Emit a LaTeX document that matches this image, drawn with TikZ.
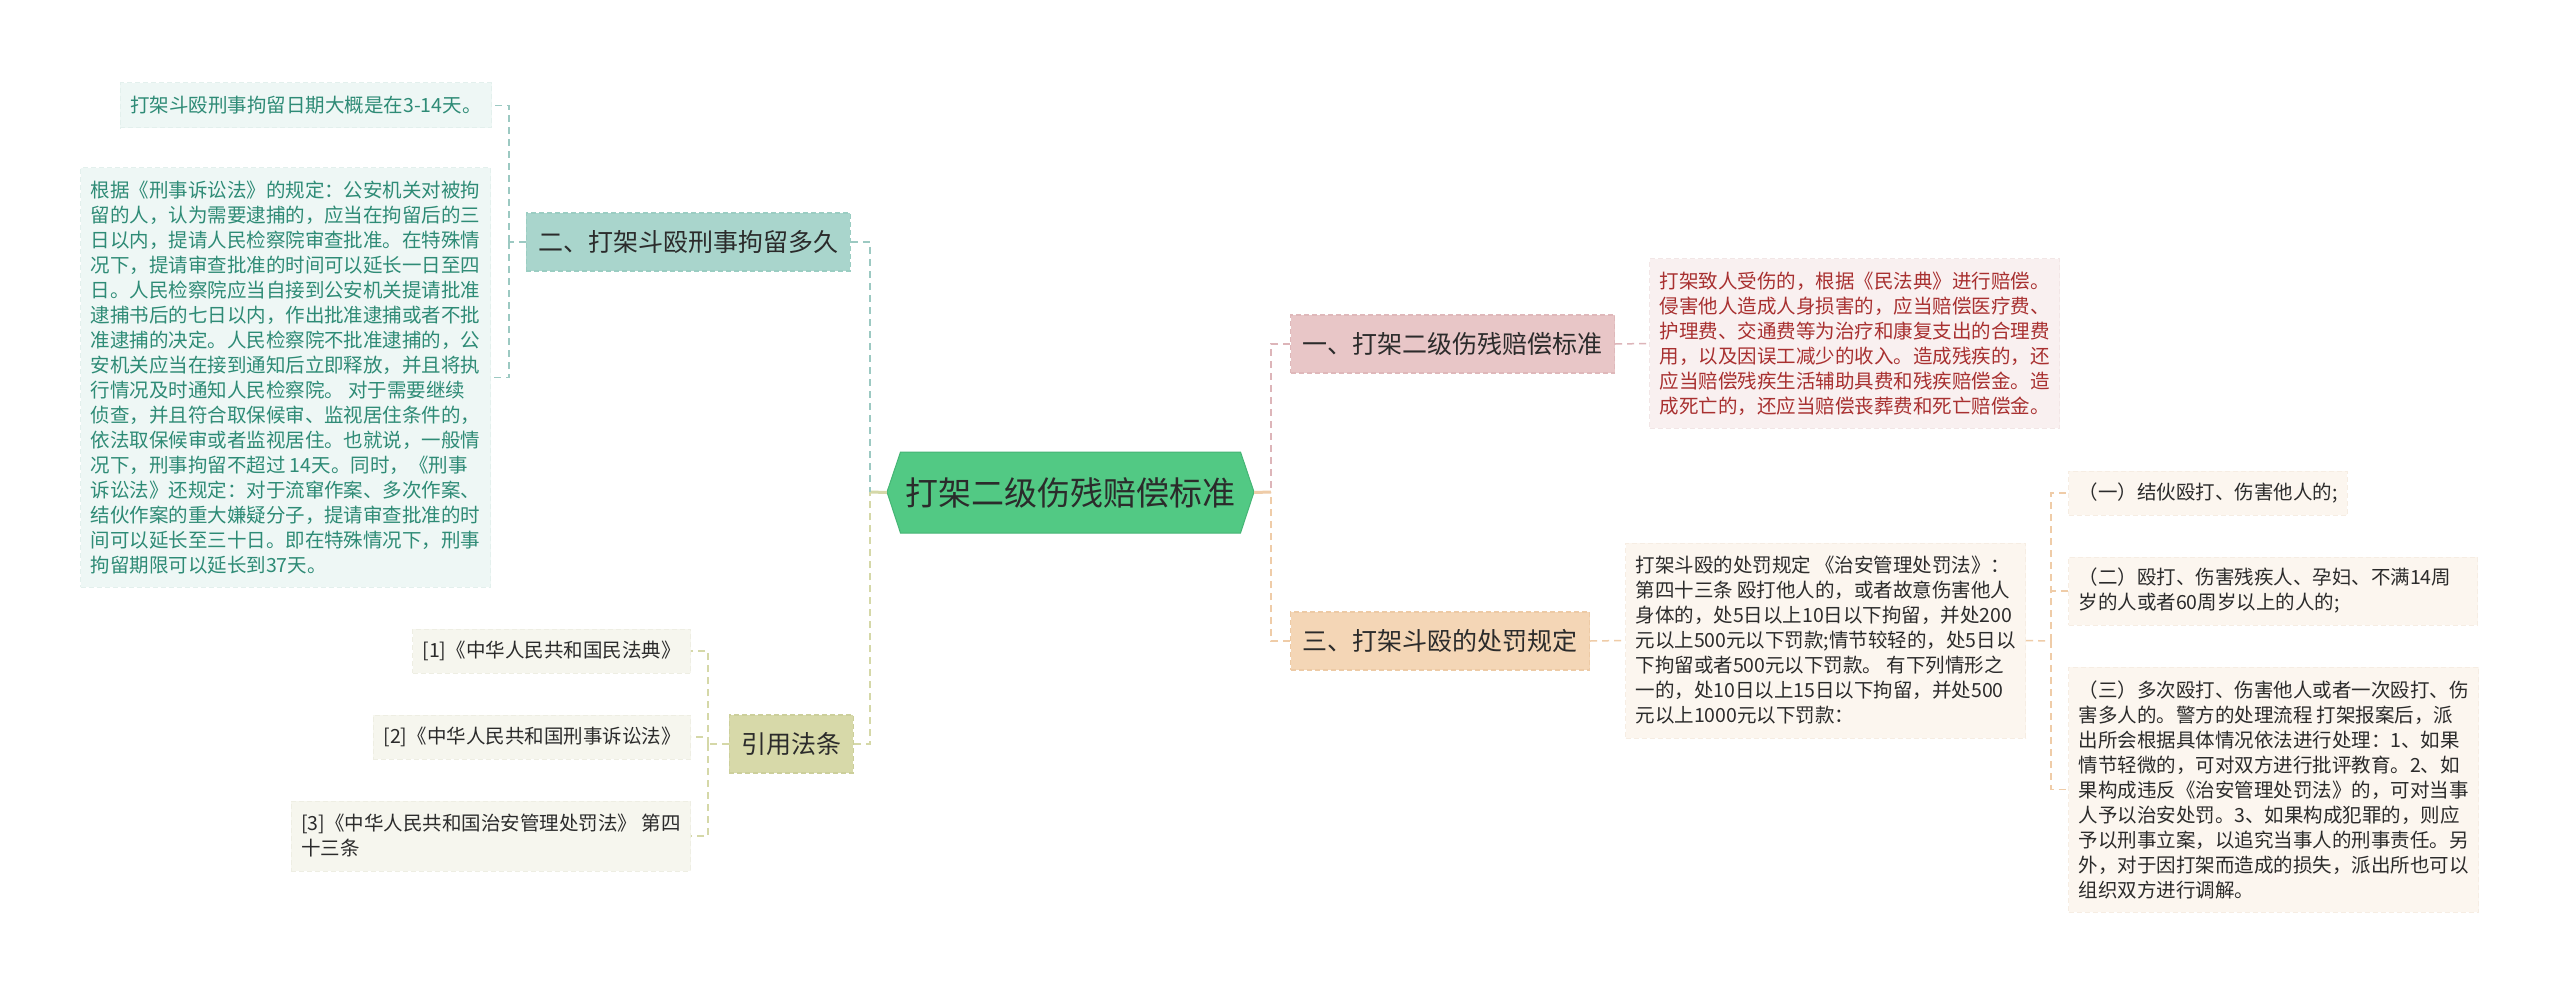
\documentclass[tikz,border=0pt]{standalone}
\usepackage{fontspec}
\setmainfont{Noto Sans CJK SC}
\definecolor{tealB}{HTML}{A9D5CC}
\definecolor{tealBd}{HTML}{9ACDC2}
\definecolor{tealL}{HTML}{EEF7F5}
\definecolor{tealLd}{HTML}{E3F0ED}
\definecolor{tealT}{HTML}{2E8B76}
\definecolor{tealC}{HTML}{9CC9C2}
\definecolor{pinkB}{HTML}{E8C6C7}
\definecolor{pinkBd}{HTML}{DFB8BA}
\definecolor{pinkL}{HTML}{F9F0F0}
\definecolor{pinkLd}{HTML}{F2E6E6}
\definecolor{pinkT}{HTML}{A83030}
\definecolor{pinkC}{HTML}{DDB5B9}
\definecolor{peachB}{HTML}{F4D6B6}
\definecolor{peachBd}{HTML}{EDCAA5}
\definecolor{peachL}{HTML}{FCF6EF}
\definecolor{peachLd}{HTML}{F6EDE3}
\definecolor{peachC}{HTML}{EFCCA8}
\definecolor{oliveB}{HTML}{D7D9A9}
\definecolor{oliveBd}{HTML}{CCCF9B}
\definecolor{oliveL}{HTML}{F6F6EE}
\definecolor{oliveLd}{HTML}{EEEEE3}
\definecolor{oliveC}{HTML}{D5D8A8}
\definecolor{hubfill}{HTML}{52C984}
\definecolor{hubline}{HTML}{45B575}
\definecolor{txt}{HTML}{2B2B2B}
\tikzset{
  hubnode/.style={rectangle, minimum width=367pt, minimum height=81pt, inner sep=0pt, font=\fontsize{33}{40}\selectfont, text=txt},
  branch/.style={rectangle, font=\fontsize{25}{30}\selectfont, text=txt, minimum height=58pt, inner xsep=12pt, inner ysep=0pt, dash pattern=on 5pt off 3pt, line width=1.2pt},
  leaf/.style={rectangle, font=\fontsize{19.5}{25}\selectfont, align=left, inner xsep=10pt, inner ysep=0pt, line width=1pt, dash pattern=on 5pt off 3pt},
  tealleaf/.style={leaf, fill=tealL, draw=tealLd, text=tealT},
  pinkleaf/.style={leaf, fill=pinkL, draw=pinkLd, text=pinkT},
  peachleaf/.style={leaf, fill=peachL, draw=peachLd, text=txt},
  oliveleaf/.style={leaf, fill=oliveL, draw=oliveLd, text=txt},
  conn/.style={line width=2pt, dash pattern=on 7pt off 5pt},
  subconn/.style={line width=1.5pt, dash pattern=on 7pt off 5pt},
  hubconn/.style={line width=3pt},
}
\begin{document}
\begin{tikzpicture}[x=1pt,y=-1pt]
\useasboundingbox[fill=white] (0,0) rectangle (2560,995);

% central hexagon
\filldraw[fill=hubfill, draw=hubline, line width=1pt] (887,492) -- (900.5,452) -- (1240.5,452) -- (1254,492) -- (1240.5,533) -- (900.5,533) -- cycle;
\node[hubnode] (hub) at (1070.5,492.5) {打架二级伤残赔偿标准};

\coordinate (hl) at (870,492);
\coordinate (hr) at (1271,492);
\coordinate (j2) at (509,242);
\coordinate (j3) at (2051,641);
\coordinate (j4) at (708,744);

% branches
\node[branch, fill=tealB, draw=tealBd, anchor=east] (b2) at (851,242) {二、打架斗殴刑事拘留多久};
\node[branch, fill=pinkB, draw=pinkBd, anchor=west] (b1) at (1290,344) {一、打架二级伤残赔偿标准};
\node[branch, fill=peachB, draw=peachBd, anchor=west] (b3) at (1290,641) {三、打架斗殴的处罚规定};
\node[branch, fill=oliveB, draw=oliveBd, anchor=east] (cite) at (854,744) {引用法条};

% leaves of branch 2
\node[tealleaf, anchor=east, minimum height=45pt] (l21) at (492,105.5) {打架斗殴刑事拘留日期大概是在3-14天。};
\node[tealleaf, anchor=east, minimum height=419pt] (l22) at (491,377.5) {根据《刑事诉讼法》的规定：公安机关对被拘\\留的人，认为需要逮捕的，应当在拘留后的三\\日以内，提请人民检察院审查批准。在特殊情\\况下，提请审查批准的时间可以延长一日至四\\日。人民检察院应当自接到公安机关提请批准\\逮捕书后的七日以内，作出批准逮捕或者不批\\准逮捕的决定。人民检察院不批准逮捕的，公\\安机关应当在接到通知后立即释放，并且将执\\行情况及时通知人民检察院。~对于需要继续\\侦查，并且符合取保候审、监视居住条件的，\\依法取保候审或者监视居住。也就说，一般情\\况下，刑事拘留不超过~14天。同时，《刑事\\诉讼法》还规定：对于流窜作案、多次作案、\\结伙作案的重大嫌疑分子，提请审查批准的时\\间可以延长至三十日。即在特殊情况下，刑事\\拘留期限可以延长到37天。};

% leaf of branch 1
\node[pinkleaf, anchor=west, minimum height=169pt] (l1) at (1649,343.5) {打架致人受伤的，根据《民法典》进行赔偿。\\侵害他人造成人身损害的，应当赔偿医疗费、\\护理费、交通费等为治疗和康复支出的合理费\\用，以及因误工减少的收入。造成残疾的，还\\应当赔偿残疾生活辅助具费和残疾赔偿金。造\\成死亡的，还应当赔偿丧葬费和死亡赔偿金。};

% leaf of branch 3 and its children
\node[peachleaf, anchor=west, minimum height=195pt] (l3) at (1625,640.5) {打架斗殴的处罚规定~《治安管理处罚法》：\\第四十三条~殴打他人的，或者故意伤害他人\\身体的，处5日以上10日以下拘留，并处200\\元以上500元以下罚款;情节较轻的，处5日以\\下拘留或者500元以下罚款。~有下列情形之\\一的，处10日以上15日以下拘留，并处500\\元以上1000元以下罚款：};
\node[peachleaf, anchor=west, minimum height=44pt] (s1) at (2068,493) {（一）结伙殴打、伤害他人的;};
\node[peachleaf, anchor=west, minimum height=68pt, text width=389pt] (s2) at (2068,591) {（二）殴打、伤害残疾人、孕妇、不满14周\\岁的人或者60周岁以上的人的;};
\node[peachleaf, anchor=west, minimum height=245pt] (s3) at (2068,789.5) {（三）多次殴打、伤害他人或者一次殴打、伤\\害多人的。警方的处理流程~打架报案后，派\\出所会根据具体情况依法进行处理：1、如果\\情节轻微的，可对双方进行批评教育。2、如\\果构成违反《治安管理处罚法》的，可对当事\\人予以治安处罚。3、如果构成犯罪的，则应\\予以刑事立案，以追究当事人的刑事责任。另\\外，对于因打架而造成的损失，派出所也可以\\组织双方进行调解。};

% cited laws
\node[oliveleaf, anchor=east, minimum height=44pt] (c1) at (691,651) {[1]《中华人民共和国民法典》};
\node[oliveleaf, anchor=east, minimum height=44pt] (c2) at (691,737) {[2]《中华人民共和国刑事诉讼法》};
\node[oliveleaf, anchor=east, minimum height=70pt] (c3) at (691,836) {[3]《中华人民共和国治安管理处罚法》~第四\\十三条};

% connectors from hub
\draw[hubconn, oliveC] (hub.west) -- (hl);
\draw[hubconn, peachC] (hub.east) -- (hr);
\draw[conn, tealC] (b2.east) -| (hl);
\draw[conn, oliveC] (cite.east) -| (hl);
\draw[conn, pinkC] (b1.west) -| (hr);
\draw[conn, peachC] (b3.west) -| (hr);

% branch to leaves
\draw[subconn, pinkC] (b1.east) -- (l1.west);
\draw[subconn, peachC] (b3.east) -- (l3.west);
\draw[subconn, tealC] (b2.west) -- (j2);
\draw[subconn, tealC] (j2) |- (l21.east);
\draw[subconn, tealC] (j2) |- (l22.east);
\draw[subconn, peachC] (l3.east) -- (j3);
\draw[subconn, peachC] (j3) |- (s1.west);
\draw[subconn, peachC] (j3) |- (s2.west);
\draw[subconn, peachC] (j3) |- (s3.west);
\draw[subconn, oliveC] (cite.west) -- (j4);
\draw[subconn, oliveC] (j4) |- (c1.east);
\draw[subconn, oliveC] (j4) |- (c2.east);
\draw[subconn, oliveC] (j4) |- (c3.east);
\end{tikzpicture}
\end{document}
